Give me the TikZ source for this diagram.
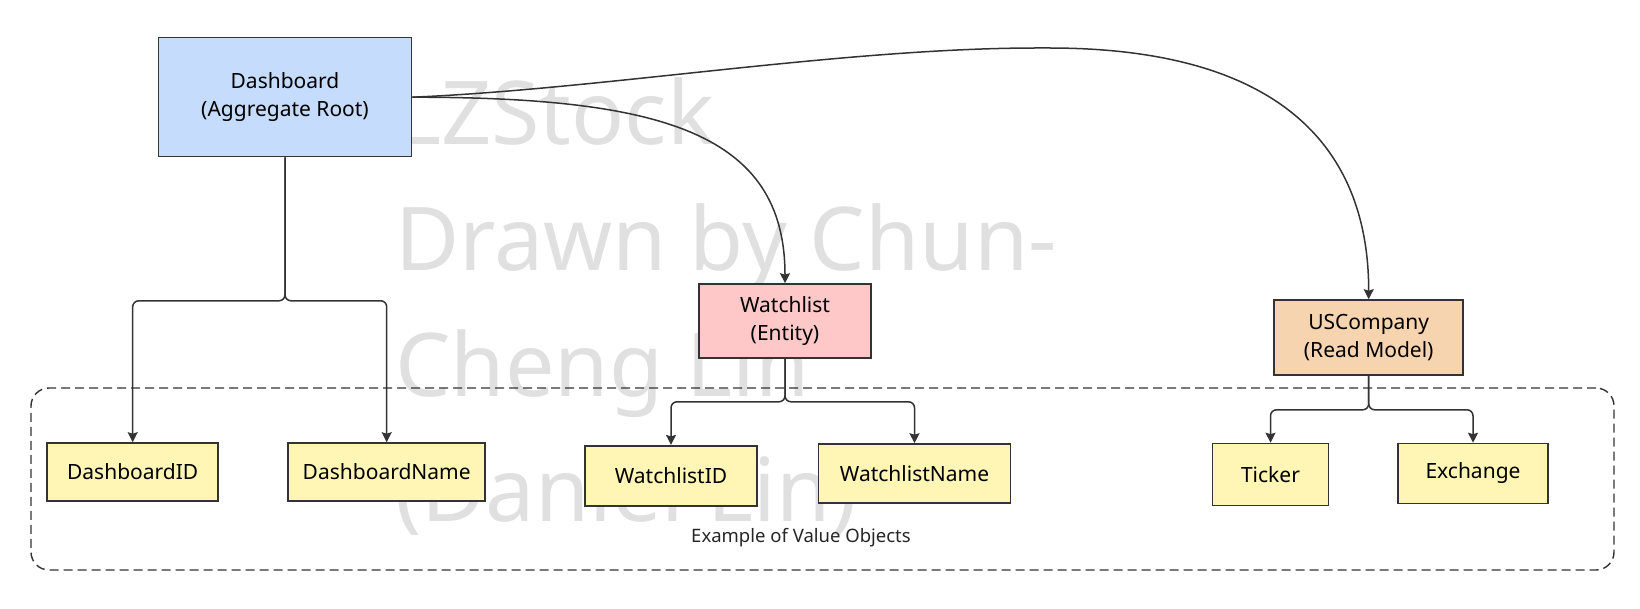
\documentclass[tikz,border=0pt]{standalone}
\usepackage{fontspec}
\setmainfont{Noto Sans}
\usepackage{tikz}
\usetikzlibrary{arrows.meta}
\usepackage{xcolor}
\definecolor{rootblue}{RGB}{198,220,253}
\definecolor{entitypink}{RGB}{255,200,200}
\definecolor{readpeach}{RGB}{246,212,176}
\definecolor{valueyellow}{RGB}{255,245,180}
\definecolor{edgegray}{RGB}{51,51,51}
\definecolor{markgray}{RGB}{224,224,224}

\begin{document}
\begin{tikzpicture}[x=1pt,y=-1pt,
        box/.style={draw=edgegray,line width=1.6pt,align=center,inner sep=0pt,
            font=\fontsize{21}{28.5}\selectfont},
        valuebox/.style={box,fill=valueyellow},
        link/.style={draw=edgegray,line width=1.5pt,rounded corners=6pt,
            -{Stealth[length=10pt,width=10pt,inset=1.5pt]}}]
    \useasboundingbox (0,0) rectangle (1640,609);

    % Watermark
    \foreach \txt/\ypos [count=\i] in {LZStock/145,Drawn by Chun-/270.5,Cheng Lin/396,{(Daniel Lin)}/521.5}
        \node[anchor=base west,inner sep=0pt,text=markgray,font=\fontsize{88}{100}\selectfont] (mark\i) at (395,\ypos) {\txt};

    % Value object group
    \node[draw=edgegray,line width=1.4pt,dash pattern=on 9pt off 5pt,rounded corners=18pt,
        minimum width=1583pt,minimum height=182pt] (vogroup) at (822.5,479) {};
    \node[font=\fontsize{18.5}{22}\selectfont,text=black!85] (volabel) at (801,538) {Example of Value Objects};

    % Main components
    \node[box,fill=rootblue,minimum width=253pt,minimum height=119pt] (dash) at (285,97.2) {Dashboard\\(Aggregate Root)};
    \node[box,fill=entitypink,minimum width=172pt,minimum height=74pt] (wlist) at (785,321) {Watchlist\\(Entity)};
    \node[box,fill=readpeach,minimum width=189pt,minimum height=75pt] (usco) at (1368.7,337.5) {USCompany\\(Read Model)};

    % Value objects
    \node[valuebox,minimum width=171pt,minimum height=58pt] (dashid) at (132.7,472) {DashboardID};
    \node[valuebox,minimum width=197pt,minimum height=58pt] (dashname) at (386.7,472) {DashboardName};
    \node[valuebox,minimum width=172pt,minimum height=60pt] (wlistid) at (671,475.7) {WatchlistID};
    \node[valuebox,minimum width=192pt,minimum height=59pt] (wlistname) at (914.5,473.5) {WatchlistName};
    \node[valuebox,minimum width=116pt,minimum height=62pt] (ticker) at (1270.5,474.5) {Ticker};
    \node[valuebox,minimum width=150pt,minimum height=60pt] (exch) at (1473,473.5) {Exchange};

    % Connections
    \coordinate (arcpeak) at (1043,48);
    \draw[link] (dash.east) .. controls +(250,0) and +(0,-150) .. (wlist.north);
    \draw[link] (dash.east) .. controls +(190,-8) and +(-200,0) .. (arcpeak)
        .. controls +(227,0) and +(0,-160) .. (usco.north);

    \draw[link] (dash.south) -- ++(0,143.3) -| (dashid.north);
    \draw[link] (dash.south) -- ++(0,143.3) -| (dashname.north);
    \draw[link] (wlist.south) -- ++(0,43) -| (wlistid.north);
    \draw[link] (wlist.south) -- ++(0,43) -| (wlistname.north);
    \draw[link] (usco.south) -- ++(0,34) -| (ticker.north);
    \draw[link] (usco.south) -- ++(0,34) -| (exch.north);
\end{tikzpicture}
\end{document}
